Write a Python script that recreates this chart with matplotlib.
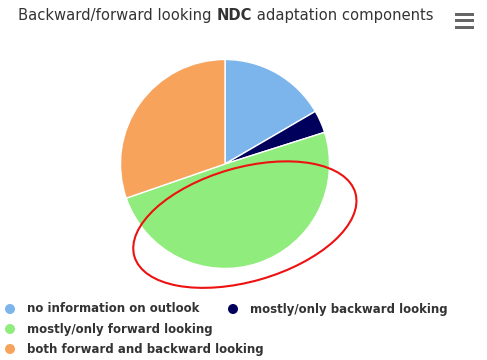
import matplotlib
matplotlib.use("Agg")
import matplotlib.pyplot as plt
from matplotlib.patches import Ellipse, Rectangle

# Shares of NDC adaptation components (%)
categories = [
    "no information on outlook",
    "mostly/only backward looking",
    "mostly/only forward looking",
    "both forward and backward looking",
]
shares = [16.6, 3.5, 49.6, 30.3]
colors = ["#7cb5ec", "#00005c", "#90ed7d", "#f7a35c"]

W, H = 487, 360
DPI = 100
fig = plt.figure(figsize=(W / DPI, H / DPI), dpi=DPI)
fig.patch.set_facecolor("white")


def px(x, y):
    """Figure pixel (from top-left) to figure fraction."""
    return x / W, 1 - y / H


# Pie area
cx, cy, r = 225, 164, 104.5
ax = fig.add_axes([(cx - r) / W, 1 - (cy + r) / H, 2 * r / W, 2 * r / H])
ax.pie(shares, colors=colors, startangle=90, counterclock=False,
       wedgeprops=dict(edgecolor="white", linewidth=1.0))
ax.set_xlim(-1, 1)
ax.set_ylim(-1, 1)
ax.set_aspect("equal")
ax.axis("off")

# Red highlight around the forward-looking share
ax.add_patch(Ellipse((0.19, -0.58), 2.2, 1.09, angle=16, fill=False,
                     edgecolor="#ee1111", linewidth=1.5, clip_on=False))

# Title with bold "NDC", pieces laid out along a shared baseline
title_parts = [("Backward/forward looking ", "normal"),
               ("NDC", "bold"),
               (" adaptation components", "normal")]
title_size = 10.6
renderer = fig.canvas.get_renderer()
x_px, base_y = 18, 20
for part, weight in title_parts:
    fx, fy = px(x_px, base_y)
    t = fig.text(fx, fy, part, fontsize=title_size, fontweight=weight,
                 color="#333333", va="baseline", ha="left")
    x_px += t.get_window_extent(renderer).width

# Menu icon
for yy in (14, 20.5, 27):
    x0, y0 = px(455, yy + 1.5)
    fig.add_artist(Rectangle((x0, y0), 19 / W, 3 / H, transform=fig.transFigure,
                             facecolor="#666666", edgecolor="none"))

# Legend
legend_pos = [(10, 309), (233, 309), (10, 329), (10, 349)]
for (lx, ly), label, col in zip(legend_pos, categories, colors):
    mx, my = px(lx, ly)
    fig.add_artist(Ellipse((mx, my), 10 / W, 10 / H, transform=fig.transFigure,
                           facecolor=col, edgecolor="none"))
    txx, tyy = px(lx + 17, ly)
    fig.text(txx, tyy, label, fontsize=8.5, fontweight="bold",
             color="#333333", va="center", ha="left")

fig.savefig("out.png", dpi=DPI, facecolor="white")
